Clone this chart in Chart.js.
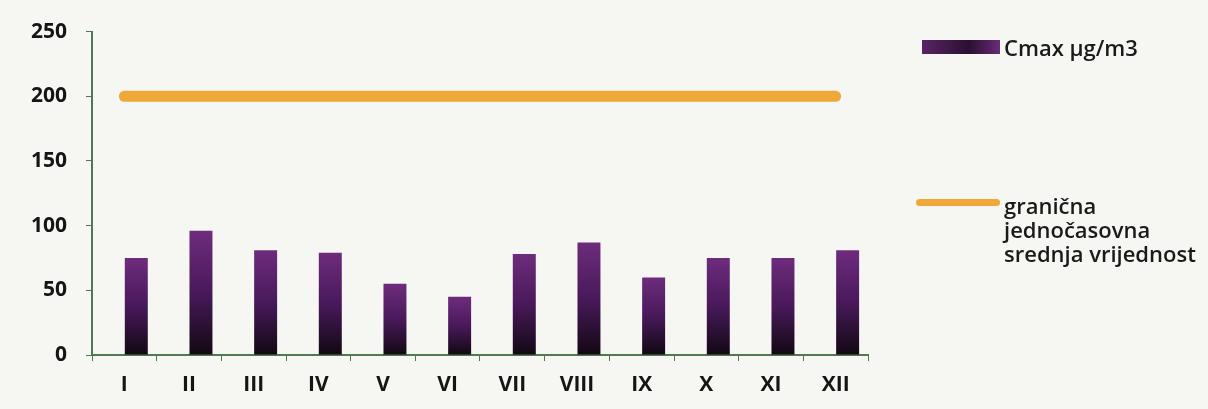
<!DOCTYPE html>
<html lang="hr">
<head>
<meta charset="UTF-8">
<title>Cmax µg/m3</title>
<script src="https://cdn.jsdelivr.net/npm/chart.js"></script>
<style>
  body { margin: 0; background: #f6f6f3; font-family: 'Open Sans', sans-serif; }
  .wrap { position: relative; width: 1208px; height: 409px; }
  .legend { position: absolute; left: 0; top: 0; width: 1208px; color: #1a1a1a; font-size: 22px; font-weight: 600; }
  .item { position: absolute; display: flex; align-items: flex-start; white-space: nowrap; }
  .swatch { flex-shrink: 0; }
  .bar-sw { width: 78px; height: 14px; margin: 5px 4px 0 0; background: linear-gradient(90deg, #5a2468, #2a1030 60%, #6a2c78); }
  .line-sw { width: 84px; height: 7px; margin: 6px 4px 0 0; border-radius: 4px; background: #f0a838; }
  .txt { line-height: 24px; }
</style>
</head>
<body>
<div class="wrap">
  <canvas id="c"></canvas>
  <div class="legend">
    <div class="item" style="left:922px; top:35px;"><div class="swatch bar-sw"></div><div class="txt">Cmax µg/m3</div></div>
    <div class="item" style="left:916px; top:193px;"><div class="swatch line-sw"></div><div class="txt">granična<br>jednočasovna<br>srednja vrijednost</div></div>
  </div>
</div>
<script>
const months = ['I', 'II', 'III', 'IV', 'V', 'VI', 'VII', 'VIII', 'IX', 'X', 'XI', 'XII'];
const cmax = [75, 96, 81, 79, 55, 45, 78, 87, 60, 75, 75, 81];
const limit = [200, 200, 200, 200, 200, 200, 200, 200, 200, 200, 200, 200];
const yTicks = [0, 50, 100, 150, 200, 250];

const axisGreen = '#4f7a4f';
const tickFont = { family: 'Open Sans', size: 21, weight: 'bold' };

// purple at the top of each bar fading to near black at the base
function barFill(ctx) {
  const chart = ctx.chart;
  const area = chart.chartArea;
  if (!area || ctx.parsed === undefined) return '#4a1c55';
  const y = chart.scales.y;
  const top = y.getPixelForValue(ctx.parsed.y);
  const bottom = y.getPixelForValue(0);
  const g = chart.ctx.createLinearGradient(0, top, 0, bottom);
  g.addColorStop(0, '#6e2c7c');
  g.addColorStop(0.5, '#48195a');
  g.addColorStop(1, '#120812');
  return g;
}

new Chart(document.getElementById('c'), {
  data: {
    labels: months,
    datasets: [
      {
        type: 'line',
        label: 'granična jednočasovna srednja vrijednost',
        data: limit,
        borderColor: '#f0a838',
        borderWidth: 11,
        borderCapStyle: 'round',
        pointRadius: 0,
        order: 0
      },
      {
        // empty slot: the original sits its bars right of the category centre
        type: 'bar',
        label: '',
        data: [],
        barPercentage: 0.96,
        categoryPercentage: 0.74,
        order: 1
      },
      {
        type: 'bar',
        label: 'Cmax µg/m3',
        data: cmax,
        backgroundColor: barFill,
        barPercentage: 0.96,
        categoryPercentage: 0.74,
        order: 2
      }
    ]
  },
  options: {
    responsive: true,
    maintainAspectRatio: false,
    animation: false,
    layout: { padding: { top: 29, right: 340, left: 0, bottom: 0 } },
    plugins: { legend: { display: false }, tooltip: { enabled: false } },
    scales: {
      x: {
        offset: true,
        grid: { display: true, drawOnChartArea: false, drawTicks: true, tickLength: 6, color: axisGreen, offset: true },
        border: { color: axisGreen, width: 2 },
        ticks: { color: '#151515', font: tickFont, padding: 11 },
        afterFit: s => { s.height = 54; }
      },
      y: {
        min: 0,
        max: 250,
        afterBuildTicks: s => { s.ticks = yTicks.map(v => ({ value: v })); },
        grid: { display: true, drawOnChartArea: false, drawTicks: true, tickLength: 6, color: axisGreen },
        border: { color: axisGreen, width: 2 },
        ticks: { color: '#151515', font: tickFont, padding: 19 },
        afterFit: s => { s.width = 92; }
      }
    }
  }
});
</script>
</body>
</html>
